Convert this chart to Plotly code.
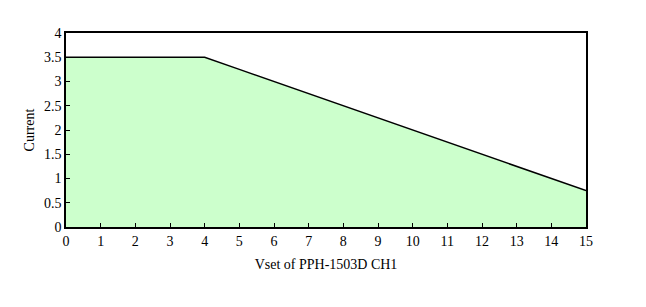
import plotly.graph_objects as go

vset = [0, 1, 2, 3, 4, 5, 6, 7, 8, 9, 10, 11, 12, 13, 14, 15]
current = [3.5, 3.5, 3.5, 3.5, 3.5, 3.25, 3.0, 2.75, 2.5, 2.25, 2.0, 1.75, 1.5, 1.25, 1.0, 0.75]
x_ticks = list(range(0, 16))
y_ticks = [0, 0.5, 1, 1.5, 2, 2.5, 3, 3.5, 4]
y_labels = ["0", "0.5", "1", "1.5", "2", "2.5", "3", "3.5", "4"]

fam = "Liberation Serif"
font = dict(family=fam, size=14, color="black")

fig = go.Figure()
fig.add_trace(go.Scatter(
    x=vset, y=current, mode="lines", fill="tozeroy",
    fillcolor="#CCFFCC", line=dict(color="black", width=1.5),
    showlegend=False, hoverinfo="skip"))

fig.update_layout(
    width=646, height=307,
    margin=dict(l=66, r=60, t=33, b=80),
    paper_bgcolor="white", plot_bgcolor="white",
    font=font,
    xaxis=dict(range=[0, 15], tickmode="array", tickvals=x_ticks,
               ticktext=[str(v) for v in x_ticks], tickfont=font,
               showgrid=False, zeroline=False, showline=True, mirror=True,
               linecolor="black", linewidth=1.5, ticks="inside", ticklen=4,
               tickcolor="black",
               title=dict(text="Vset of PPH-1503D CH1", font=font, standoff=12)),
    yaxis=dict(range=[0, 4], tickmode="array", tickvals=y_ticks, ticktext=y_labels,
               tickfont=font,
               showgrid=False, zeroline=False, showline=True, mirror=True,
               linecolor="black", linewidth=1.5, ticks="inside", ticklen=4,
               tickcolor="black",
               title=dict(text="Current", font=font, standoff=6)),
)
fig.write_html("out.html")
